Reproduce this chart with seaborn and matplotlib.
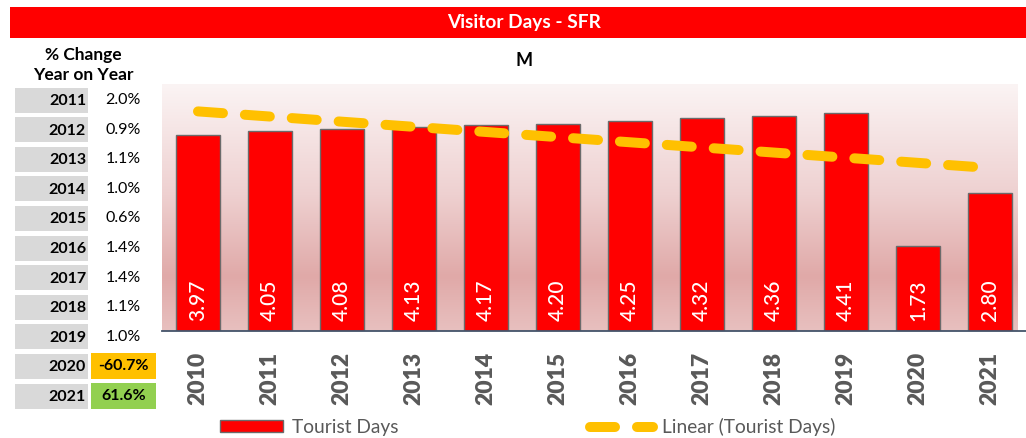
import numpy as np
import pandas as pd
import matplotlib
matplotlib.use("Agg")
import matplotlib.pyplot as plt
import matplotlib.patches as mpatches
from matplotlib.colors import LinearSegmentedColormap
import seaborn as sns

# ---------------- data ----------------
years = ["2010", "2011", "2012", "2013", "2014", "2015",
         "2016", "2017", "2018", "2019", "2020", "2021"]
tourist_days = [3.97, 4.05, 4.08, 4.13, 4.17, 4.20,
                4.25, 4.32, 4.36, 4.41, 1.73, 2.80]
change_years = ["2011", "2012", "2013", "2014", "2015",
                "2016", "2017", "2018", "2019", "2020", "2021"]
change_pct = [2.0, 0.9, 1.1, 1.0, 0.6, 1.4, 1.4, 1.1, 1.0, -60.7, 61.6]
highlight = {"2020": "#ffc000", "2021": "#92d050"}

title = "Visitor Days - SFR"
subtitle = "M"
table_title = "% Change\nYear on Year"
series_label = "Tourist Days"
trend_label = "Linear (Tourist Days)"

# ---------------- style ----------------
sns.set_style("white")
plt.rcParams["font.family"] = ["Lato", "DejaVu Sans"]

W, H = 1026, 438
fig = plt.figure(figsize=(W / 100, H / 100), dpi=100)

def px_rect(x0, y0, x1, y1):
    return [x0 / W, 1 - y1 / H, (x1 - x0) / W, (y1 - y0) / H]

ax = fig.add_axes(px_rect(162, 84, 1026, 331))

df = pd.DataFrame({"year": years, "days": tourist_days})
cat_w = (1035 - 162) / len(years)
xmax = -0.5 + (1026 - 162) / cat_w
ymax = 5.0

# gradient background
grad_cmap = LinearSegmentedColormap.from_list(
    "bg", [(0.0, "#fbf4f4"), (0.45, "#eed0d0"), (0.78, "#e0a9a8"), (1.0, "#e8c0bf")])
grad = np.linspace(0, 1, 256).reshape(-1, 1)
ax.imshow(grad, cmap=grad_cmap, aspect="auto", origin="upper",
          extent=(-0.5, xmax, 0, ymax), zorder=0)

sns.barplot(data=df, x="year", y="days", order=years, color="#ff0000",
            saturation=1, width=0.61, edgecolor="#6b6b6b", linewidth=1.0,
            ax=ax, zorder=2)

# linear trend
xs = np.arange(len(years))
coef = np.polyfit(xs, tourist_days, 1)
trend, = ax.plot(xs, np.polyval(coef, xs), color="#ffc000", lw=7.2,
                 dashes=(2.5, 2.2), dash_capstyle="round", zorder=3,
                 label=trend_label)

# value labels
for i, v in enumerate(tourist_days):
    ax.text(i, 0.2, f"{v:.2f}", rotation=90, ha="center", va="bottom",
            color="white", fontsize=15, fontweight="medium", zorder=4)

ax.set_xlim(-0.5, xmax)
ax.set_ylim(0, ymax)
ax.set_xlabel("")
ax.set_ylabel("")
ax.set_yticks([])
for s in ["top", "right", "left"]:
    ax.spines[s].set_visible(False)
ax.spines["bottom"].set_color("#44546a")
ax.spines["bottom"].set_linewidth(1.3)
ax.set_xticks(xs)
ax.set_xticklabels(years, rotation=90, fontsize=16.5, fontweight="heavy",
                   color="#595959")
ax.tick_params(axis="x", which="major", length=0, pad=15)
ax.set_xticks(np.arange(-0.5, len(years), 1.0), minor=True)
ax.tick_params(axis="x", which="minor", length=7.5, width=1.2,
               color="#44546a", direction="out")

# legend
bar_handle = mpatches.Patch(facecolor="#ff0000", edgecolor="#6b6b6b",
                            linewidth=1.0, label=series_label)
leg = ax.legend(handles=[bar_handle, trend], loc="center left",
                bbox_to_anchor=(220 / W, 1 - 427 / H),
                bbox_transform=fig.transFigure, ncol=2, frameon=False,
                fontsize=13.8, handlelength=3.3, handleheight=0.62,
                handletextpad=0.45, columnspacing=10.0, borderpad=0,
                borderaxespad=0)
for t in leg.get_texts():
    t.set_color("#595959")

# ---------------- overlay: header + table ----------------
ov = fig.add_axes([0, 0, 1, 1], zorder=5)
ov.set_xlim(0, W)
ov.set_ylim(H, 0)
ov.axis("off")
ov.patch.set_alpha(0)

ov.add_patch(mpatches.Rectangle((10, 7), W - 10, 31, color="#ff0000", lw=0))
ov.text(524, 22.5, title, ha="center", va="center", color="white",
        fontsize=13.8, fontweight="bold")
ov.text(524, 60, subtitle, ha="center", va="center", color="black",
        fontsize=13, fontweight="bold")

ov.text(83, 65, table_title, ha="center", va="center", color="black",
        fontsize=12.5, fontweight="bold", linespacing=1.35)

row0, pitch = 100, 29.6
for i, (yr, pct) in enumerate(zip(change_years, change_pct)):
    yc = row0 + i * pitch
    ov.add_patch(mpatches.Rectangle((15, yc - 12.5), 73, 25,
                                    color="#d9d9d9", lw=0))
    ov.text(86, yc + 1, yr, ha="right", va="center", color="black",
            fontsize=11.5, fontweight="bold")
    if yr in highlight:
        ov.add_patch(mpatches.Rectangle((91, yc - 13), 65, 25.5,
                                        color=highlight[yr], lw=0))
        ov.text(123.5, yc, f"{pct:.1f}%", ha="center", va="center",
                color="black", fontsize=11.5, fontweight="bold")
    else:
        ov.text(123, yc, f"{pct:.1f}%", ha="center", va="center",
                color="black", fontsize=11.5)

fig.savefig("out.png", dpi=100)
